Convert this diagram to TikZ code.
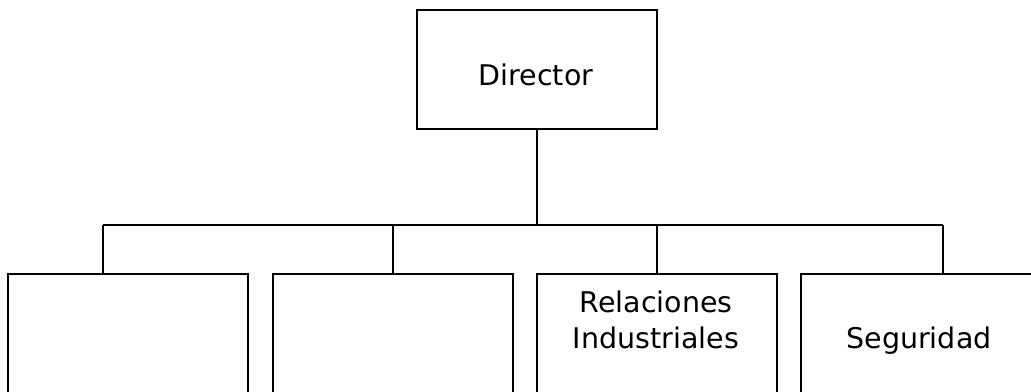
\documentclass[tikz,border=0pt]{standalone}
\usepackage{fontspec}
\setmainfont{DejaVu Sans}
\begin{document}
\begin{tikzpicture}[x=1pt,y=-1pt,
  unitbox/.style={draw=black,line width=1.6pt,rectangle,inner sep=0pt,anchor=north west},
  link/.style={draw=black,line width=1.6pt},
  lbl/.style={inner sep=0pt,anchor=base,align=center,font=\fontsize{28.5}{36}\selectfont}]
\clip (0,0) rectangle (1031,391);
\fill[white] (0,0) rectangle (1031,391);

% top box
\node[unitbox,minimum width=240pt,minimum height=119pt] (dir) at (416,9) {};
\node[lbl] (tdir) at (536,85) {Director};

% department boxes (they run past the lower edge)
\node[unitbox,minimum width=240pt,minimum height=160pt] (b1) at (7,273) {};
\node[unitbox,minimum width=240pt,minimum height=160pt] (b2) at (272,273) {};
\node[unitbox,minimum width=240pt,minimum height=160pt] (b3) at (536,273) {};
\node[unitbox,minimum width=240pt,minimum height=160pt] (b4) at (800,273) {};
\node[lbl] (t3) at (656,348) {Relaciones\\Industriales};
\node[lbl] (t4) at (919,348) {Seguridad};

% connectors
\coordinate (busL) at (103,225);
\coordinate (busR) at (943,225);
\draw[link] (dir.south) -- (dir.south |- busL);
\draw[link] (busL) -- (busR);
\draw[link] (busL) -- (busL |- b1.north);
\draw[link] (b2.north |- busL) -- (b2.north);
\draw[link] (b3.north |- busL) -- (b3.north);
\draw[link] (busR) -- (busR |- b4.north);
\end{tikzpicture}
\end{document}
